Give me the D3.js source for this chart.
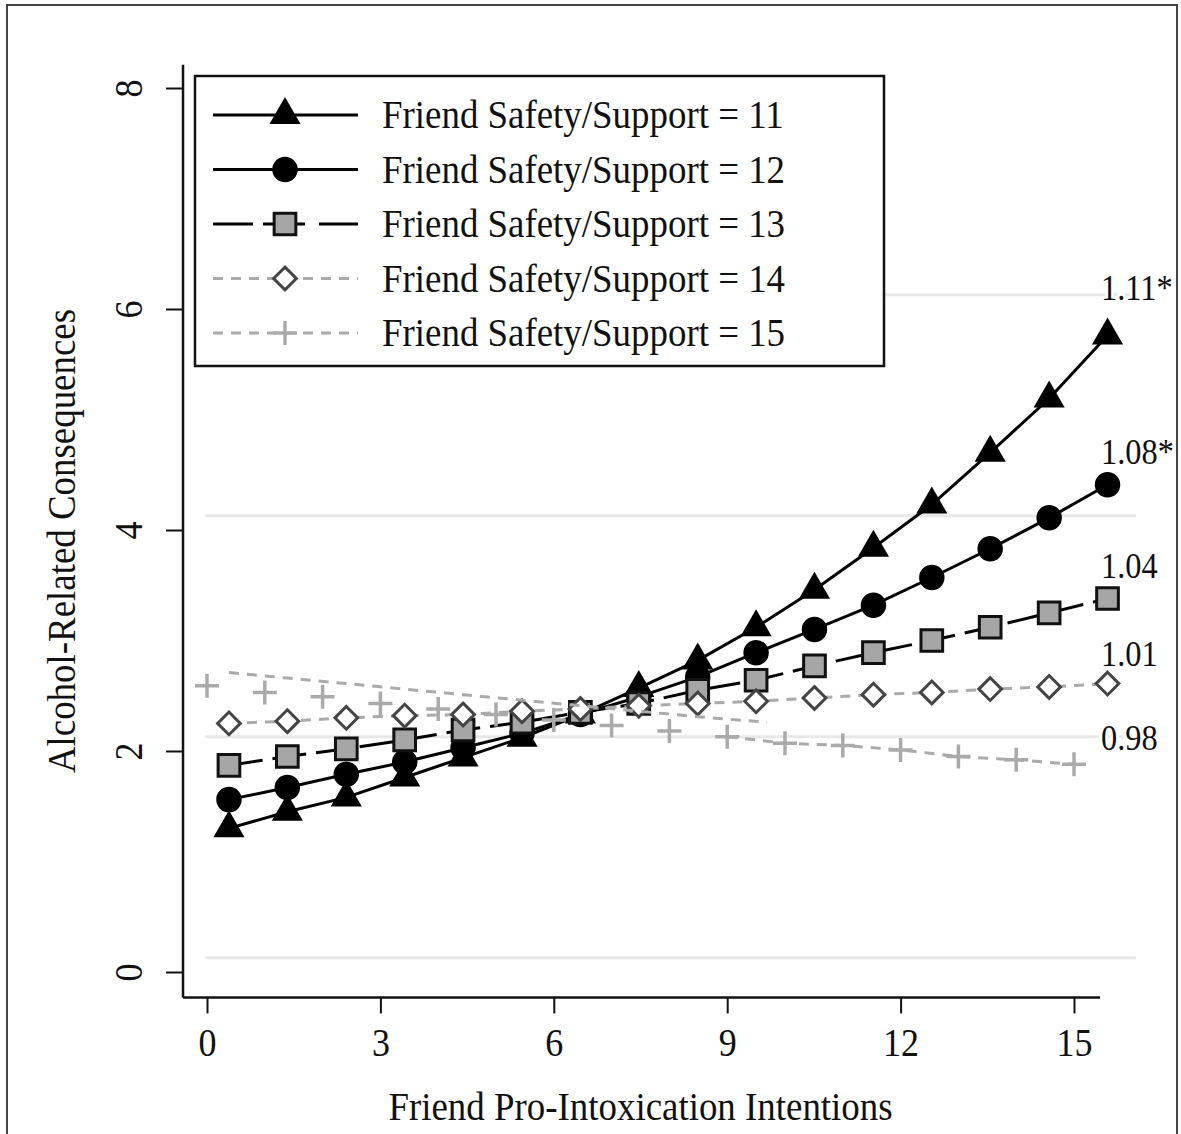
<!DOCTYPE html>
<html>
<head>
<meta charset="utf-8">
<script src="https://cdn.jsdelivr.net/npm/d3@7"></script>
<style>
  body { margin: 0; background: #fff; }
  text { font-family: "Liberation Serif", "Times New Roman", serif; fill: #111; }
</style>
</head>
<body>
<div id="chart-area"></div>
<script>
// Data
const xTicks = [0, 3, 6, 9, 12, 15];
const yTicks = [0, 2, 4, 6, 8];
const gridValues = [0.13, 2.13, 4.13, 6.13];

// shared x positions for the 11..14 series
const xs = [0.38, 1.39, 2.41, 3.42, 4.43, 5.45, 6.46, 7.47, 8.49, 9.50, 10.51, 11.53, 12.54, 13.55, 14.57, 15.58];

const s11 = [1.30, 1.45, 1.58, 1.76, 1.94, 2.12, 2.33, 2.57, 2.82, 3.12, 3.46, 3.84, 4.23, 4.70, 5.19, 5.76];
const s12 = [1.56, 1.67, 1.79, 1.90, 2.03, 2.16, 2.33, 2.49, 2.67, 2.89, 3.10, 3.32, 3.57, 3.83, 4.11, 4.41];
const s13 = [1.87, 1.95, 2.02, 2.10, 2.19, 2.26, 2.35, 2.43, 2.55, 2.64, 2.77, 2.89, 3.00, 3.12, 3.25, 3.38];
const s14 = [2.25, 2.27, 2.30, 2.32, 2.33, 2.36, 2.38, 2.41, 2.43, 2.45, 2.48, 2.51, 2.53, 2.56, 2.58, 2.61];

// the 15 series: markers sit on whole numbers, its dashed trend is drawn apart
const s15x = [0, 1, 2, 3, 4, 5, 6, 7, 8, 9, 10, 11, 12, 13, 14, 15];
const s15 = [2.59, 2.53, 2.49, 2.43, 2.38, 2.33, 2.28, 2.23, 2.18, 2.13, 2.07, 2.05, 2.01, 1.95, 1.92, 1.88];
const s15LineX = [0.38, 1.39, 2.41, 3.42, 4.43, 5.45, 6.46, 7.47, 8.49, 9.69];
const s15LineY = [2.71, 2.66, 2.61, 2.56, 2.51, 2.46, 2.41, 2.36, 2.31, 2.26];

const legendLabels = ["Friend Safety/Support = 11", "Friend Safety/Support = 12", "Friend Safety/Support = 13",
                      "Friend Safety/Support = 14", "Friend Safety/Support = 15"];
const slopeLabels = ["1.11*", "1.08*", "1.04", "1.01", "0.98"];

// Styles per series
const styles = [
  { sym: d3.symbolTriangle, size: 420, fill: "#000", stroke: "none", sw: 0, line: "#000", dash: null, legDash: null, lab: -48 },
  { sym: d3.symbolCircle, size: 510, fill: "#000", stroke: "none", sw: 0, line: "#000", dash: null, legDash: null, lab: -33 },
  { sym: d3.symbolSquare, size: 470, fill: "#a6a6a6", stroke: "#111", sw: 3, line: "#000", dash: "34,10", legDash: "40,10,42,14", lab: -33 },
  { sym: d3.symbolDiamond2, size: 330, fill: "#fff", stroke: "#444", sw: 3, line: "#aaa", dash: "10,8", legDash: "10,8", lab: -30 },
  { sym: d3.symbolPlus, size: 190, fill: "none", stroke: "#aaa", sw: 3.5, line: "#aaa", dash: "10,8", legDash: "10,8", lab: -26 }
];

const W = 1181, H = 1134;
const margin = { left: 207, right: 107, top: 88, bottom: 162 };
const sx = 0.9; // source type is a little condensed

const svg = d3.select("#chart-area").append("svg")
  .attr("width", W)
  .attr("height", H);

const x = d3.scaleLinear().domain([0, 15]).range([margin.left, W - margin.right]);
const y = d3.scaleLinear().domain([0, 8]).range([H - margin.bottom, margin.top]);

// condensed text helper
function label(g, tx, ty, str, size, anchor, rot) {
  return g.append("text")
    .attr("transform", "translate(" + tx + "," + ty + ")" + (rot ? " rotate(" + rot + ")" : "") + " scale(" + sx + ",1)")
    .attr("text-anchor", anchor || "start")
    .attr("font-size", size)
    .text(str);
}

// light grid lines (slightly offset in the source)
svg.append("g").selectAll("line")
  .data(gridValues)
  .enter().append("line")
    .attr("x1", x(-0.03)).attr("x2", x(16.07))
    .attr("y1", d => y(d)).attr("y2", d => y(d))
    .attr("stroke", "#e8e8e8").attr("stroke-width", 3);

// axes
const xAxis = svg.append("g")
  .attr("transform", "translate(0," + y(-0.23) + ")")
  .call(d3.axisBottom(x).tickValues(xTicks).tickSize(16).tickPadding(14));
const yAxis = svg.append("g")
  .attr("transform", "translate(" + x(-0.415) + ",0)")
  .call(d3.axisLeft(y).tickValues(yTicks).tickSize(17).tickPadding(8));

[xAxis, yAxis].forEach(g => {
  g.select(".domain").remove();
  g.selectAll(".tick line").attr("stroke", "#111").attr("stroke-width", 2);
  g.selectAll(".tick text").attr("font-size", 40).attr("fill", "#111")
    .style("font-family", "'Liberation Serif', serif");
});
xAxis.selectAll(".tick text").attr("transform", "scale(" + sx + ",1)");
yAxis.selectAll(".tick text")
  .attr("text-anchor", "middle")
  .attr("x", 0)
  .attr("transform", "translate(-55,0) rotate(-90) scale(" + sx + ",1)")
  .attr("dy", "0.35em");

// axis lines
svg.append("line")
  .attr("x1", x(-0.415)).attr("x2", x(15.45))
  .attr("y1", y(-0.23)).attr("y2", y(-0.23))
  .attr("stroke", "#111").attr("stroke-width", 2.5);
svg.append("line")
  .attr("x1", x(-0.415)).attr("x2", x(-0.415))
  .attr("y1", y(-0.23)).attr("y2", y(8.21))
  .attr("stroke", "#111").attr("stroke-width", 2.5);

// axis titles
label(svg, x(7.5), 1120, "Friend Pro-Intoxication Intentions", 41, "middle");
label(svg, 75, y(3.9), "Alcohol-Related Consequences", 41, "middle", -90);

const line = d3.line().x(d => x(d[0])).y(d => y(d[1]));
const series = [s11, s12, s13, s14].map(v => v.map((d, i) => [xs[i], d]));
series.push(s15.map((d, i) => [s15x[i], d]));

const plot = svg.append("g");

series.forEach((pts, i) => {
  const st = styles[i];
  if (i < 4) {
    plot.append("path")
      .attr("d", line(pts))
      .attr("fill", "none").attr("stroke", st.line).attr("stroke-width", 3)
      .attr("stroke-dasharray", st.dash);
  } else {
    plot.append("path")
      .attr("d", line(s15LineX.map((d, j) => [d, s15LineY[j]])))
      .attr("fill", "none").attr("stroke", st.line).attr("stroke-width", 3)
      .attr("stroke-dasharray", st.dash);
    plot.append("path")
      .attr("d", line(pts.slice(9)))
      .attr("fill", "none").attr("stroke", st.line).attr("stroke-width", 3)
      .attr("stroke-dasharray", st.dash);
  }
  plot.append("g").selectAll("path")
    .data(pts)
    .enter().append("path")
      .attr("transform", d => "translate(" + x(d[0]) + "," + y(d[1]) + ")")
      .attr("d", d3.symbol().type(st.sym).size(st.size))
      .attr("fill", st.fill).attr("stroke", st.stroke).attr("stroke-width", st.sw);

  // slope label at the end of each line
  const last = pts[pts.length - 1];
  label(svg, 1101, y(last[1]) + st.lab + 12, slopeLabels[i], 36)
    .attr("stroke", "#fff").attr("stroke-width", 6).attr("paint-order", "stroke");
});

// legend
const legend = svg.append("g");
legend.append("rect")
  .attr("x", 195).attr("y", 76)
  .attr("width", 689).attr("height", 290)
  .attr("fill", "#fff").attr("stroke", "#111").attr("stroke-width", 2.5);

legendLabels.forEach((lab, i) => {
  const st = styles[i];
  const cy = 115 + i * 54.5;
  legend.append("line")
    .attr("x1", 213).attr("x2", 358)
    .attr("y1", cy).attr("y2", cy)
    .attr("stroke", st.line).attr("stroke-width", 3)
    .attr("stroke-dasharray", st.legDash);
  legend.append("path")
    .attr("transform", "translate(285," + cy + ")")
    .attr("d", d3.symbol().type(st.sym).size(st.size))
    .attr("fill", st.fill).attr("stroke", st.stroke).attr("stroke-width", st.sw);
  label(legend, 382, cy + 13, lab, 41);
});

// outer frame, drawn last
svg.append("rect")
  .attr("x", 7).attr("y", 5)
  .attr("width", 1170).attr("height", 1140)
  .attr("fill", "none").attr("stroke", "#444").attr("stroke-width", 2);
</script>
</body>
</html>
